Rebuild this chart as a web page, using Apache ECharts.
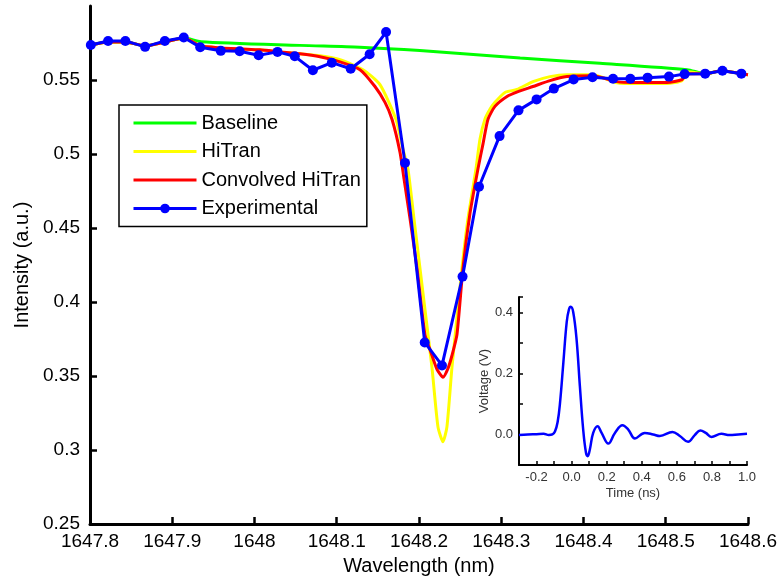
<!DOCTYPE html>
<html><head><meta charset="utf-8">
<script src="https://cdn.jsdelivr.net/npm/echarts@6/dist/echarts.min.js"></script>
<style>html,body{margin:0;padding:0;background:#fff}#c{width:780px;height:581px}</style>
</head><body><div id="c"></div><script>
// Experimental data
const expWavelength = [1647.801,1647.822,1647.843,1647.867,1647.891,1647.914,1647.934,1647.959,1647.982,1648.005,1648.028,1648.049,1648.071,1648.094,1648.117,1648.140,1648.160,1648.183,1648.207,1648.228,1648.253,1648.273,1648.298,1648.321,1648.343,1648.364,1648.388,1648.411,1648.436,1648.457,1648.478,1648.504,1648.523,1648.548,1648.569,1648.592];
const expIntensity = [0.5737,0.5764,0.5764,0.5724,0.5764,0.5787,0.5721,0.5697,0.5694,0.5667,0.5690,0.5660,0.5566,0.5617,0.5576,0.5674,0.5824,0.4940,0.3727,0.3572,0.4172,0.4779,0.5121,0.5295,0.5369,0.5442,0.5503,0.5519,0.5509,0.5509,0.5516,0.5523,0.5540,0.5543,0.5563,0.5543];

// Baseline
const baseWavelength = [1647.8012,1647.8219,1647.8426,1647.8669,1647.8912,1647.9143,1647.935,1648.055,1648.128,1648.201,1648.323,1648.420,1648.526,1648.548,1648.568,1648.592,1648.600];
const baseIntensity = [0.5737,0.5757,0.5757,0.5731,0.5757,0.5784,0.5759,0.5734,0.5722,0.5699,0.5648,0.5613,0.5570,0.5543,0.5563,0.5543,0.5536];

// HiTran
const hitranWavelength = [1647.8012,1647.8219,1647.8426,1647.8669,1647.8912,1647.9143,1647.9337,1647.9581,1647.9824,1648.0067,1648.0310,1648.0553,1648.0796,1648.1040,1648.1319,1648.1526,1648.1720,1648.1805,1648.1866,1648.1939,1648.2012,1648.2085,1648.2158,1648.2231,1648.2292,1648.2340,1648.2401,1648.2462,1648.2523,1648.2596,1648.2693,1648.2742,1648.2802,1648.2863,1648.2924,1648.3046,1648.3191,1648.3386,1648.3593,1648.3799,1648.4116,1648.4407,1648.4687,1648.5015,1648.5198,1648.5271,1648.5477,1648.5684,1648.5915,1648.6000];
const hitranIntensity = [0.5737,0.5757,0.5757,0.5731,0.5757,0.5784,0.5731,0.5717,0.5710,0.5704,0.5690,0.5677,0.5664,0.5637,0.5570,0.5469,0.5235,0.5034,0.4899,0.4564,0.4229,0.3894,0.3559,0.3157,0.3056,0.3157,0.3559,0.3894,0.4229,0.4564,0.4899,0.5101,0.5235,0.5302,0.5349,0.5416,0.5436,0.5489,0.5523,0.5536,0.5536,0.5482,0.5476,0.5476,0.5496,0.5556,0.5543,0.5563,0.5543,0.5536];

// Convolved HiTran
const convWavelength = [1647.8012,1647.8219,1647.8426,1647.8669,1647.8912,1647.9143,1647.9337,1647.9581,1647.9824,1648.0067,1648.0310,1648.0553,1648.0796,1648.1040,1648.1283,1648.1465,1648.1587,1648.1672,1648.1769,1648.1818,1648.1891,1648.1976,1648.2073,1648.2146,1648.2219,1648.2292,1648.2353,1648.2401,1648.2462,1648.2535,1648.2620,1648.2717,1648.2778,1648.2839,1648.2924,1648.3070,1648.3204,1648.3386,1648.3593,1648.3799,1648.4116,1648.4407,1648.4602,1648.5015,1648.5198,1648.5258,1648.5477,1648.5684,1648.5915,1648.6000];
const convIntensity = [0.5737,0.5757,0.5757,0.5731,0.5757,0.5784,0.5731,0.5717,0.5710,0.5704,0.5690,0.5677,0.5657,0.5623,0.5570,0.5456,0.5349,0.5235,0.5013,0.4832,0.4564,0.4229,0.3780,0.3660,0.3546,0.3492,0.3552,0.3639,0.3780,0.4229,0.4598,0.4899,0.5067,0.5235,0.5322,0.5389,0.5422,0.5456,0.5496,0.5523,0.5529,0.5489,0.5483,0.5483,0.5503,0.5543,0.5543,0.5563,0.5543,0.5536];

// Inset: pulse
const timeNs = [-0.3,-0.25,-0.2,-0.16,-0.13,-0.11,-0.095,-0.08,-0.066,-0.047,-0.028,-0.015,-0.005,0.009,0.028,0.047,0.066,0.082,0.092,0.104,0.123,0.148,0.171,0.209,0.247,0.290,0.323,0.361,0.417,0.465,0.503,0.575,0.617,0.664,0.702,0.734,0.765,0.797,0.854,0.901,0.95,1.0];
const voltage = [-0.002,0.000,0.001,0.002,-0.002,0.000,0.010,0.040,0.104,0.236,0.368,0.410,0.418,0.401,0.313,0.159,0.016,-0.060,-0.071,-0.049,0.005,0.027,0.005,-0.030,0.005,0.030,0.016,-0.013,0.005,0.000,-0.005,0.008,-0.005,-0.024,-0.002,0.013,0.005,-0.008,0.002,-0.002,0.000,0.002];

const legendNames = ['Baseline','HiTran','Convolved HiTran','Experimental'];

const zip = (a, b) => a.map((v, i) => [v, b[i]]);
const F = 'Liberation Sans, Arial, sans-serif';
const evenTenth = v => { const k = Math.round(v * 10); if (k % 2 !== 0) return ''; const r = Math.abs(v) < 1e-9 ? 0 : v; return r.toFixed(1); };
const plainNum = v => String(+(+v).toFixed(2));

const chart = echarts.init(document.getElementById('c'), null, {renderer: 'canvas'});
chart.setOption({
  animation: false,
  backgroundColor: '#fff',
  textStyle: {fontFamily: F},
  grid: [
    {left: 90, right: 32, top: 6, bottom: 53},
    {left: 519, top: 297, width: 228, height: 168}
  ],
  legend: {
    orient: 'vertical', left: 119, top: 105,
    padding: [8, 6, 8, 13], itemGap: 8.5, itemWidth: 63, itemHeight: 12,
    borderColor: '#000', borderWidth: 1.5, backgroundColor: '#fff',
    lineStyle: {width: 3},
    textStyle: {fontSize: 20, fontFamily: F, color: '#000'},
    data: [
      {name: legendNames[0], itemStyle: {opacity: 0}},
      {name: legendNames[1], itemStyle: {opacity: 0}},
      {name: legendNames[2], itemStyle: {opacity: 0}},
      {name: legendNames[3]}
    ]
  },
  xAxis: [
    {type: 'value', gridIndex: 0, min: 1647.8, max: 1648.6, interval: 0.1,
     axisLine: {show: true, onZero: false, lineStyle: {color: '#000', width: 3}},
     axisTick: {show: true, inside: true, length: 7, lineStyle: {color: '#000', width: 2.5}},
     axisLabel: {color: '#000', fontSize: 19, fontFamily: F, margin: 8, formatter: plainNum},
     splitLine: {show: false},
     name: 'Wavelength (nm)', nameLocation: 'middle', nameGap: 31,
     nameTextStyle: {color: '#000', fontSize: 20, fontFamily: F}},
    {type: 'value', gridIndex: 1, min: -0.3, max: 1.0, interval: 0.1,
     axisLine: {show: true, onZero: false, lineStyle: {color: '#000', width: 2}},
     axisTick: {show: true, inside: true, length: 4, lineStyle: {color: '#000', width: 1.5}},
     axisLabel: {color: '#333', fontSize: 13, fontFamily: F, margin: 6, formatter: evenTenth},
     splitLine: {show: false},
     name: 'Time (ns)', nameLocation: 'middle', nameGap: 22,
     nameTextStyle: {color: '#333', fontSize: 13, fontFamily: F}}
  ],
  yAxis: [
    {type: 'value', gridIndex: 0, min: 0.25, max: 0.6, interval: 0.05,
     axisLine: {show: true, onZero: false, lineStyle: {color: '#000', width: 3}},
     axisTick: {show: true, inside: true, length: 7, lineStyle: {color: '#000', width: 2.5}},
     axisLabel: {color: '#000', fontSize: 19, fontFamily: F, margin: 10, showMaxLabel: false, formatter: plainNum},
     splitLine: {show: false},
     name: 'Intensity (a.u.)', nameLocation: 'middle', nameGap: 58,
     nameTextStyle: {color: '#000', fontSize: 20, fontFamily: F}},
    {type: 'value', gridIndex: 1, min: -0.1, max: 0.45, interval: 0.1,
     axisLine: {show: true, onZero: false, lineStyle: {color: '#000', width: 2}},
     axisTick: {show: true, inside: true, length: 4, lineStyle: {color: '#000', width: 1.5}},
     axisLabel: {color: '#333', fontSize: 13, fontFamily: F, margin: 6, formatter: evenTenth},
     splitLine: {show: false},
     name: 'Voltage (V)', nameLocation: 'middle', nameGap: 27,
     nameTextStyle: {color: '#333', fontSize: 13, fontFamily: F}}
  ],
  series: [
    {name: legendNames[0], type: 'line', xAxisIndex: 0, yAxisIndex: 0, data: zip(baseWavelength, baseIntensity),
     symbol: 'none', smooth: 0.25, lineStyle: {color: '#00ff00', width: 3}, itemStyle: {color: '#00ff00', opacity: 0}},
    {name: legendNames[1], type: 'line', xAxisIndex: 0, yAxisIndex: 0, data: zip(hitranWavelength, hitranIntensity),
     symbol: 'none', smooth: 0.2, lineStyle: {color: '#ffff00', width: 3}, itemStyle: {color: '#ffff00', opacity: 0}},
    {name: legendNames[2], type: 'line', xAxisIndex: 0, yAxisIndex: 0, data: zip(convWavelength, convIntensity),
     symbol: 'none', smooth: 0.2, lineStyle: {color: '#ff0000', width: 3}, itemStyle: {color: '#ff0000', opacity: 0}},
    {name: legendNames[3], type: 'line', xAxisIndex: 0, yAxisIndex: 0, data: zip(expWavelength, expIntensity),
     symbol: 'circle', symbolSize: 10, showSymbol: true, lineStyle: {color: '#0000ff', width: 3}, itemStyle: {color: '#0000ff'}},
    {type: 'line', xAxisIndex: 1, yAxisIndex: 1, data: zip(timeNs, voltage),
     symbol: 'none', smooth: 0.4, lineStyle: {color: '#0000ff', width: 2.5}, itemStyle: {color: '#0000ff'}}
  ]
});
</script></body></html>
